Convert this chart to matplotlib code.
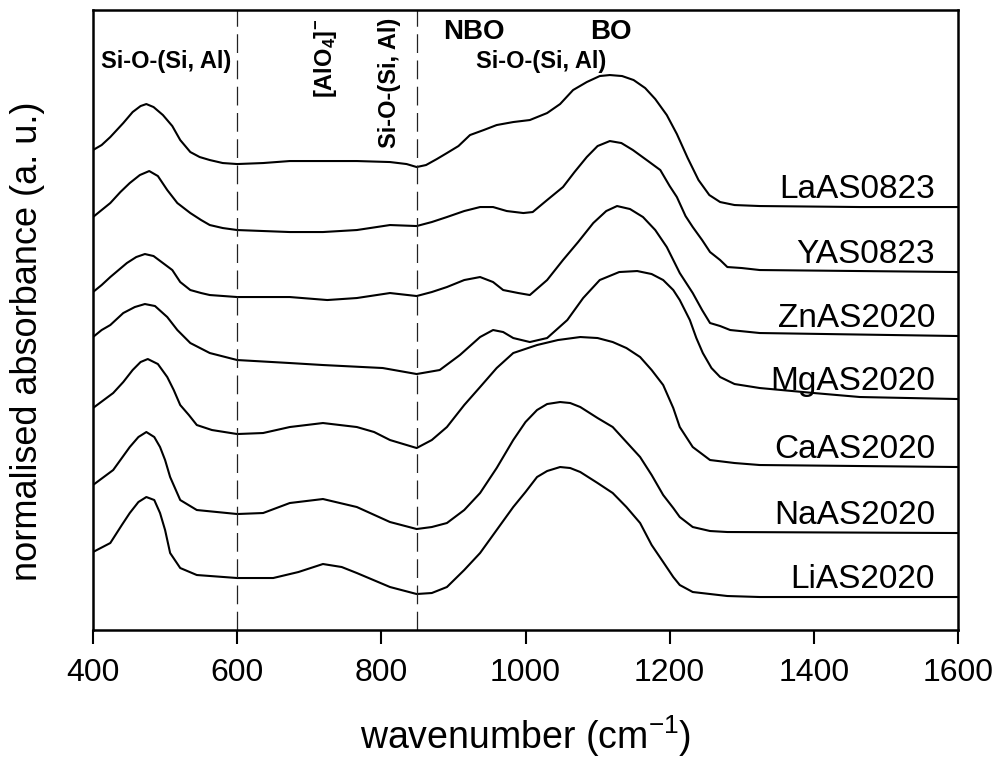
import matplotlib
matplotlib.use('Agg')
import matplotlib.pyplot as plt

# FTIR spectra, stacked (a.u.)
la_wn = [400, 412, 424, 442, 455, 466, 474, 484, 497, 510, 521, 535, 548, 562, 580, 600, 636, 673, 719, 766, 812, 835, 849, 862, 877, 891, 907, 923, 942, 960, 983, 1006, 1030, 1048, 1066, 1085, 1103, 1117, 1134, 1150, 1166, 1180, 1196, 1210, 1225, 1240, 1255, 1270, 1290, 1325, 1464, 1600]
la_y = [4.80, 4.85, 4.93, 5.07, 5.18, 5.24, 5.26, 5.23, 5.15, 5.04, 4.90, 4.78, 4.73, 4.70, 4.67, 4.66, 4.67, 4.69, 4.69, 4.69, 4.68, 4.66, 4.63, 4.65, 4.71, 4.77, 4.84, 4.95, 5.00, 5.05, 5.08, 5.10, 5.17, 5.26, 5.40, 5.48, 5.54, 5.55, 5.54, 5.50, 5.42, 5.31, 5.15, 4.96, 4.72, 4.50, 4.35, 4.28, 4.25, 4.24, 4.23, 4.23]

y_wn = [400, 412, 424, 438, 451, 465, 478, 490, 503, 517, 535, 550, 562, 580, 600, 673, 719, 766, 812, 849, 870, 891, 915, 937, 955, 974, 997, 1010, 1030, 1052, 1068, 1085, 1100, 1117, 1133, 1149, 1170, 1187, 1200, 1210, 1222, 1232, 1245, 1256, 1270, 1280, 1300, 1325, 1600]
y_y = [4.13, 4.20, 4.27, 4.38, 4.47, 4.55, 4.59, 4.54, 4.40, 4.27, 4.17, 4.10, 4.05, 4.02, 4.00, 3.98, 3.98, 4.00, 4.05, 4.04, 4.08, 4.13, 4.19, 4.23, 4.23, 4.19, 4.17, 4.18, 4.30, 4.43, 4.58, 4.73, 4.84, 4.89, 4.87, 4.80, 4.69, 4.60, 4.44, 4.33, 4.14, 4.03, 3.90, 3.78, 3.70, 3.63, 3.62, 3.60, 3.58]

zn_wn = [400, 412, 424, 447, 460, 472, 484, 497, 510, 521, 535, 550, 562, 600, 673, 725, 766, 812, 849, 870, 891, 915, 937, 955, 969, 990, 1006, 1030, 1052, 1073, 1094, 1112, 1127, 1145, 1163, 1180, 1196, 1205, 1214, 1232, 1245, 1256, 1270, 1284, 1325, 1600]
zn_y = [3.38, 3.45, 3.53, 3.67, 3.73, 3.76, 3.74, 3.67, 3.60, 3.48, 3.40, 3.37, 3.35, 3.33, 3.33, 3.30, 3.32, 3.37, 3.34, 3.38, 3.43, 3.50, 3.53, 3.48, 3.40, 3.37, 3.35, 3.50, 3.70, 3.88, 4.07, 4.19, 4.24, 4.21, 4.13, 4.00, 3.83, 3.70, 3.57, 3.37, 3.20, 3.07, 3.04, 3.00, 2.97, 2.94]

mg_wn = [400, 412, 424, 442, 458, 472, 486, 503, 517, 535, 562, 600, 673, 719, 802, 849, 881, 909, 937, 955, 969, 983, 1006, 1030, 1058, 1080, 1103, 1130, 1155, 1175, 1191, 1205, 1214, 1228, 1237, 1246, 1258, 1270, 1290, 1325, 1400, 1464, 1600]
mg_y = [2.93, 3.00, 3.05, 3.17, 3.23, 3.26, 3.24, 3.13, 3.00, 2.87, 2.77, 2.70, 2.67, 2.65, 2.62, 2.56, 2.60, 2.75, 2.93, 3.00, 2.98, 2.92, 2.88, 2.92, 3.10, 3.32, 3.50, 3.58, 3.59, 3.56, 3.50, 3.40, 3.30, 3.10, 2.92, 2.77, 2.62, 2.53, 2.46, 2.42, 2.37, 2.33, 2.31]

ca_wn = [400, 428, 442, 455, 466, 476, 490, 503, 512, 521, 533, 544, 565, 600, 636, 673, 719, 766, 790, 812, 849, 870, 891, 915, 937, 960, 983, 1016, 1045, 1076, 1100, 1121, 1140, 1159, 1175, 1191, 1205, 1214, 1232, 1256, 1290, 1325, 1600]
ca_y = [2.22, 2.37, 2.48, 2.60, 2.68, 2.71, 2.66, 2.53, 2.40, 2.25, 2.15, 2.05, 2.00, 1.96, 1.97, 2.03, 2.07, 2.03, 1.98, 1.90, 1.82, 1.90, 2.03, 2.25, 2.43, 2.62, 2.77, 2.85, 2.90, 2.93, 2.92, 2.88, 2.82, 2.73, 2.60, 2.45, 2.22, 2.03, 1.83, 1.70, 1.67, 1.65, 1.63]

na_wn = [400, 428, 451, 463, 474, 485, 493, 500, 507, 521, 544, 600, 636, 673, 719, 766, 812, 849, 870, 891, 915, 937, 960, 983, 1000, 1016, 1030, 1048, 1062, 1076, 1100, 1121, 1140, 1159, 1175, 1191, 1205, 1214, 1232, 1256, 1280, 1600]
na_y = [1.45, 1.60, 1.83, 1.93, 1.98, 1.93, 1.83, 1.70, 1.53, 1.30, 1.20, 1.16, 1.17, 1.27, 1.31, 1.23, 1.08, 1.01, 1.03, 1.07, 1.20, 1.37, 1.62, 1.90, 2.08, 2.20, 2.26, 2.28, 2.27, 2.23, 2.12, 2.03, 1.88, 1.73, 1.55, 1.35, 1.22, 1.13, 1.03, 0.99, 0.98, 0.97]

li_wn = [400, 424, 440, 451, 463, 474, 485, 493, 500, 507, 521, 544, 600, 650, 685, 719, 745, 766, 812, 849, 870, 891, 915, 937, 960, 983, 1000, 1016, 1030, 1048, 1062, 1076, 1100, 1121, 1140, 1159, 1175, 1191, 1205, 1214, 1232, 1280, 1325, 1600]
li_y = [0.78, 0.87, 1.05, 1.17, 1.28, 1.33, 1.30, 1.17, 1.00, 0.77, 0.62, 0.55, 0.52, 0.52, 0.58, 0.66, 0.63, 0.57, 0.43, 0.36, 0.37, 0.43, 0.60, 0.77, 1.00, 1.23, 1.38, 1.53, 1.59, 1.63, 1.62, 1.58, 1.47, 1.37, 1.23, 1.07, 0.85, 0.68, 0.53, 0.45, 0.38, 0.34, 0.33, 0.33]

names = ['LaAS0823', 'YAS0823', 'ZnAS2020', 'MgAS2020', 'CaAS2020', 'NaAS2020', 'LiAS2020']
spectra = [(la_wn, la_y), (y_wn, y_y), (zn_wn, zn_y), (mg_wn, mg_y),
           (ca_wn, ca_y), (na_wn, na_y), (li_wn, li_y)]

# band positions marked with dashed lines
band_lines = [600, 850]

plt.rcParams['font.family'] = ['Liberation Sans', 'DejaVu Sans']
plt.rcParams['mathtext.fontset'] = 'custom'
plt.rcParams['mathtext.rm'] = 'Liberation Sans'
plt.rcParams['mathtext.bf'] = 'Liberation Sans:bold'

fig = plt.figure(figsize=(10, 7.67), dpi=100)
ax = fig.add_axes([0.093, 0.1786, 0.865, 0.8083])

for (wn, a), name in zip(spectra, names):
    ax.plot(wn, a, color='black', lw=1.5, solid_joinstyle='round')
    ax.text(1568, a[-1] + 0.09, name, ha='right', va='baseline', fontsize=24)

for b in band_lines:
    ax.axvline(b, color='#222222', lw=0.9, linestyle=(0, (15, 6)))

# band assignments
ax.text(501, 5.69, 'Si-O-(Si, Al)', ha='center', va='center', fontsize=17, fontweight='bold')
ax.text(723, 5.72, r'$\mathbf{[AlO_4]^{-}}$', ha='center', va='center', rotation=90, fontsize=17)
ax.text(812, 5.47, 'Si-O-(Si, Al)', ha='center', va='center', rotation=90, fontsize=17, fontweight='bold')
ax.text(929, 5.98, 'NBO', ha='center', va='center', fontsize=20, fontweight='bold')
ax.text(1119, 5.98, 'BO', ha='center', va='center', fontsize=20, fontweight='bold')
ax.text(1021, 5.69, 'Si-O-(Si, Al)', ha='center', va='center', fontsize=17, fontweight='bold')

ax.set_xlim(400, 1600)
ax.set_ylim(0, 6.2)
ax.set_xticks([400, 600, 800, 1000, 1200, 1400, 1600])
ax.set_yticks([])
ax.tick_params(axis='x', direction='out', length=10, width=1.5, pad=10, labelsize=23)
for s in ax.spines.values():
    s.set_linewidth(1.8)

ax.set_xlabel('wavenumber (cm$^{-1}$)', fontsize=27)
ax.xaxis.set_label_coords(0.5, -0.135)
ax.set_ylabel('normalised absorbance (a. u.)', fontsize=26)
ax.yaxis.set_label_coords(-0.055, 0.465)

fig.savefig('out.png', dpi=100)
